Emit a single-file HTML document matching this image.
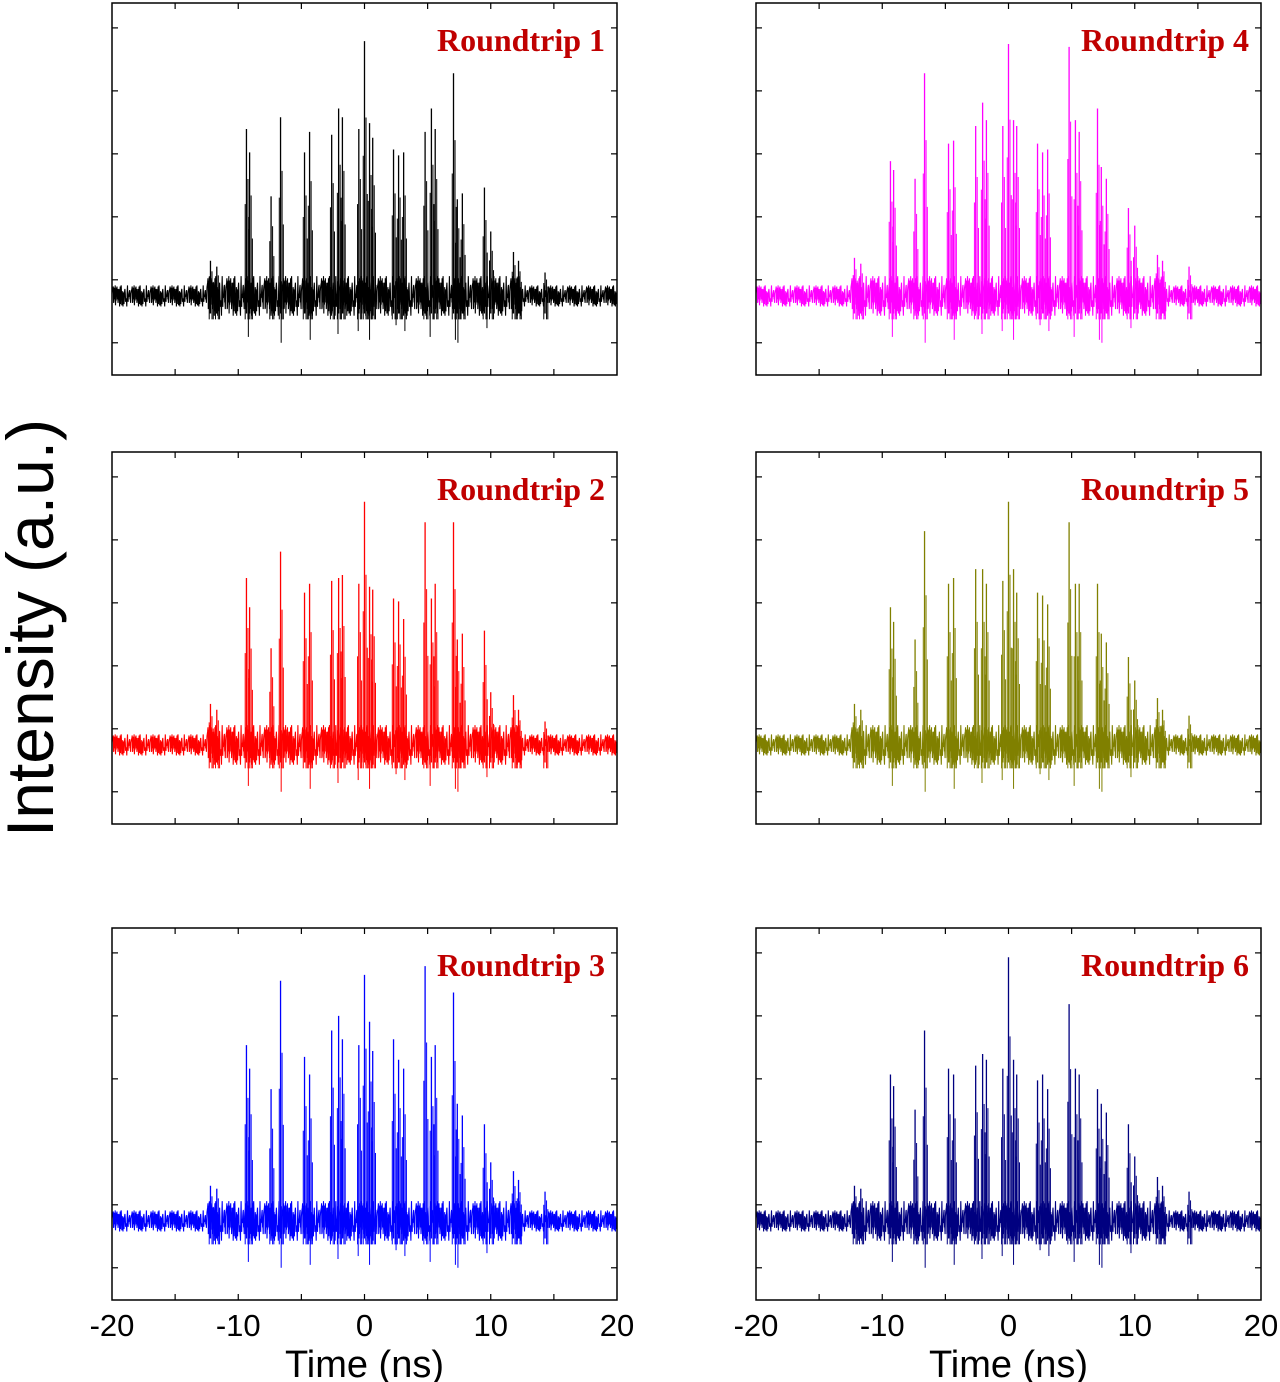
<!DOCTYPE html>
<html><head><meta charset="utf-8"><style>
html,body{margin:0;padding:0;background:#fff;}
svg{display:block;}
</style></head><body>
<svg id="fig" width="1280" height="1382" viewBox="0 0 1280 1382" xmlns="http://www.w3.org/2000/svg"></svg>
<script>
// ---- data ----
const peakTimes = [-12.2,-11.7,-9.35,-9.1,-7.4,-6.65,-4.75,-4.35,-2.6,-2.05,-1.75,-0.45,0,0.4,0.65,2.3,2.7,3.1,4.8,5.3,5.6,7.05,7.35,7.75,9.5,10.0,11.8,12.2,14.3];
const heights1 = [0.12,0.10,0.57,0.49,0.34,0.61,0.49,0.56,0.55,0.64,0.61,0.57,0.87,0.59,0.54,0.50,0.48,0.49,0.56,0.64,0.57,0.76,0.33,0.35,0.37,0.22,0.15,0.12,0.08];
const heights2 = [0.14,0.12,0.57,0.47,0.33,0.66,0.52,0.55,0.56,0.57,0.58,0.55,0.83,0.54,0.53,0.50,0.49,0.43,0.76,0.50,0.55,0.76,0.36,0.38,0.39,0.18,0.17,0.12,0.08];
const heights3 = [0.12,0.11,0.60,0.52,0.45,0.82,0.56,0.50,0.65,0.70,0.62,0.60,0.84,0.68,0.58,0.62,0.55,0.52,0.87,0.56,0.60,0.78,0.40,0.36,0.33,0.20,0.17,0.14,0.10];
const heights4 = [0.13,0.11,0.46,0.43,0.40,0.76,0.52,0.53,0.58,0.66,0.60,0.58,0.86,0.60,0.58,0.52,0.49,0.50,0.85,0.60,0.56,0.64,0.44,0.40,0.30,0.24,0.14,0.12,0.10];
const heights5 = [0.14,0.12,0.47,0.42,0.36,0.73,0.55,0.57,0.60,0.60,0.55,0.56,0.83,0.60,0.52,0.52,0.51,0.48,0.76,0.55,0.55,0.55,0.38,0.35,0.30,0.22,0.16,0.12,0.10];
const heights6 = [0.12,0.11,0.50,0.46,0.38,0.65,0.52,0.50,0.53,0.57,0.55,0.52,0.90,0.55,0.50,0.48,0.50,0.45,0.74,0.52,0.50,0.45,0.40,0.37,0.33,0.22,0.15,0.12,0.10];
const dipTimes = [-9.2,-6.6,-4.3,-2.1,-0.5,0.4,2.5,3.2,5.2,7.2,7.4,9.7];
const dips = [-0.14,-0.16,-0.15,-0.13,-0.12,-0.15,-0.10,-0.12,-0.14,-0.15,-0.16,-0.11];
const noise = [0.2,-0.5,0.8,-0.3,0.1,-0.9,0.6,0.4,-0.2,-0.7,0.9,-0.1,0.3,-0.6,0.5,-0.4,0.7,-0.8,0.2,0.0,-0.3,0.6,-0.5,0.9,-0.2,0.4,-0.7,0.1,0.8,-0.9,0.3,-0.4,0.5,-0.1,0.6,-0.6,0.2,-0.8,0.7,-0.3,0.4,0.1,-0.5,0.9,-0.7,0.3,-0.2,0.6,-0.9,0.5,0.0,-0.4,0.8,-0.6,0.2,-0.1,0.7,-0.5,0.4,-0.3];
const xTicks = [-20,-10,0,10,20];
const xTickLabels = ["-20","-10","0","10","20"];
const panels = [
 {label:"Roundtrip 1",color:"#000000",h:heights1,x0:112,y0:3},
 {label:"Roundtrip 2",color:"#ff0000",h:heights2,x0:112,y0:452},
 {label:"Roundtrip 3",color:"#0000ff",h:heights3,x0:112,y0:928},
 {label:"Roundtrip 4",color:"#ff00ff",h:heights4,x0:756,y0:3},
 {label:"Roundtrip 5",color:"#808000",h:heights5,x0:756,y0:452},
 {label:"Roundtrip 6",color:"#000080",h:heights6,x0:756,y0:928}
];
// ---- drawing ----
const NS="http://www.w3.org/2000/svg";
const svg=document.getElementById('fig');
function mk(tag,attrs,parent){const e=document.createElementNS(NS,tag);for(const k in attrs)e.setAttribute(k,attrs[k]);(parent||svg).appendChild(e);return e;}
const W=505,H=372,YMIN=-0.27,YMAX=1.0;
panels.forEach((p,pi)=>{
  const g=mk('g',{});
  
  
  const xs=t=>p.x0+(t+20)/40*W;
  const ys=v=>p.y0+(YMAX-v)/(YMAX-YMIN)*H;
  let d='';
  for(let i=0;i<=1600;i++){
    const t=-20+i*0.025;
    const amp=Math.abs(t)<12.5?0.075:0.04;
    const v=noise[(i*7)%noise.length]*amp;
    d+=(i?'L':'M')+xs(t).toFixed(1)+' '+ys(v).toFixed(1);
  }
  const tr=mk('path',{d:d,fill:'none',stroke:p.color,'stroke-width':1.1},g);
  
  
  peakTimes.forEach((t,k)=>{
    const l=mk('line',{x1:xs(t),x2:xs(t),y1:ys(-0.06),y2:ys(p.h[k]),stroke:p.color,'stroke-width':1.3},g);
    
    
    [0.12,-0.1,0.22].forEach((o,j)=>{
      const l2=mk('line',{x1:xs(t+o),x2:xs(t+o),y1:ys(-0.08),y2:ys(p.h[k]*[0.7,0.55,0.4][j]),stroke:p.color,'stroke-width':1},g);
      
      
    });
  });
  dipTimes.forEach((t,k)=>{
    const l=mk('line',{x1:xs(t),x2:xs(t),y1:ys(0.05),y2:ys(dips[k]),stroke:p.color,'stroke-width':1},g);
    
    
  });
  const fr=mk('rect',{x:p.x0,y:p.y0,width:W,height:H,fill:'none',stroke:'#000','stroke-width':1.5},g);
  
  
  for(let t=-15;t<=15;t+=5){
    const x=xs(t);
    mk('line',{x1:x,x2:x,y1:p.y0,y2:p.y0+6,stroke:'#000','stroke-width':1.2},g);
    mk('line',{x1:x,x2:x,y1:p.y0+H,y2:p.y0+H-6,stroke:'#000','stroke-width':1.2},g);
  }
  for(let k=0;k<6;k++){
    const y=ys(-0.16+k*0.215);
    mk('line',{x1:p.x0,x2:p.x0+6,y1:y,y2:y,stroke:'#000','stroke-width':1.2},g);
    mk('line',{x1:p.x0+W,x2:p.x0+W-6,y1:y,y2:y,stroke:'#000','stroke-width':1.2},g);
  }
  const lb=mk('text',{x:p.x0+W-12,y:p.y0+48,'text-anchor':'end','font-family':'Liberation Serif, serif','font-weight':'bold','font-size':32,fill:'#c00000'},g);
  lb.textContent=p.label;
  
  
  if(pi===2||pi===5){
    xTicks.forEach((t,k)=>{
      const tx=mk('text',{x:xs(t),y:1336,'text-anchor':'middle','font-family':'Liberation Sans, sans-serif','font-size':31,fill:'#000'},g);
      tx.textContent=xTickLabels[k];
      
      
    });
    const xt=mk('text',{x:xs(0),y:1377,'text-anchor':'middle','font-family':'Liberation Sans, sans-serif','font-size':38,fill:'#000'},g);
    xt.textContent='Time (ns)';
    
    
  }
});
const yt=mk('text',{x:0,y:0,transform:'translate(53,628) rotate(-90)','text-anchor':'middle','font-family':'Liberation Sans, sans-serif','font-size':66,fill:'#000'});
yt.textContent='Intensity (a.u.)';


</script>
</body></html>
